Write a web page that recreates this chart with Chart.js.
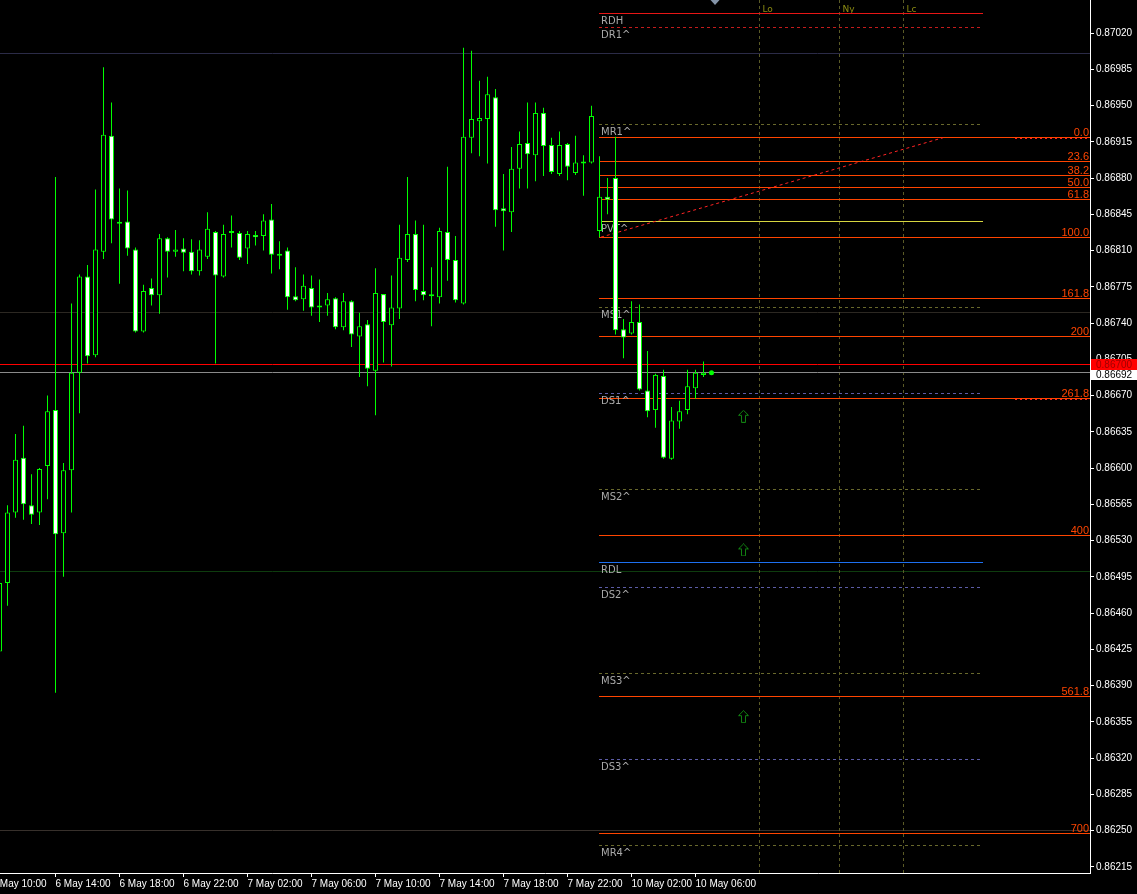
<!DOCTYPE html>
<html>
<head>
<meta charset="utf-8">
<script src="https://cdn.jsdelivr.net/npm/chart.js@4.4.1/dist/chart.umd.min.js"></script>
<style>
html,body{margin:0;padding:0;background:#000;overflow:hidden}
canvas{display:block}
</style>
</head>
<body>
<canvas id="chart" width="1137" height="894"></canvas>
<script>
// EURGBP-style M30 bars, index 0 = 6 May 11:00
const firstBar = -1;
const openP = [
  0.86423, 0.86489, 0.86557, 0.86610, 0.86564, 0.86557, 0.86602, 0.86656, 0.86537, 0.86598,
  0.86692, 0.86785, 0.86709, 0.86809, 0.86921, 0.86836, 0.86838, 0.86811, 0.86732, 0.86774,
  0.86767, 0.86822, 0.86809, 0.86812, 0.86809, 0.86790, 0.86804, 0.86828, 0.86785, 0.86827,
  0.86827, 0.86812, 0.86825, 0.86824, 0.86840, 0.86806, 0.86810, 0.86766, 0.86763, 0.86774,
  0.86755, 0.86757, 0.86764, 0.86736, 0.86761, 0.86727, 0.86739, 0.86694, 0.86768, 0.86738,
  0.86754, 0.86801, 0.86826, 0.86771, 0.86766, 0.86765, 0.86828, 0.86801, 0.86759, 0.86919,
  0.86935, 0.86937, 0.86958, 0.86851, 0.86847, 0.86889, 0.86914, 0.86902, 0.86943, 0.86912,
  0.86884, 0.86913, 0.86885, 0.86894, 0.86895, 0.86829, 0.86862, 0.86880, 0.86734, 0.86730,
  0.86741, 0.86675, 0.86656, 0.86689, 0.86609, 0.86645, 0.86656, 0.86677, 0.86690
];
const highP = [
  0.86494, 0.86564, 0.86633, 0.86641, 0.86594, 0.86600, 0.86670, 0.86881, 0.86605, 0.86759,
  0.86787, 0.86796, 0.86869, 0.86987, 0.86953, 0.86870, 0.86868, 0.86813, 0.86777, 0.86783,
  0.86826, 0.86823, 0.86830, 0.86822, 0.86821, 0.86820, 0.86847, 0.86829, 0.86835, 0.86844,
  0.86829, 0.86829, 0.86829, 0.86845, 0.86855, 0.86819, 0.86813, 0.86794, 0.86787, 0.86786,
  0.86782, 0.86769, 0.86765, 0.86769, 0.86762, 0.86750, 0.86743, 0.86793, 0.86768, 0.86786,
  0.86835, 0.86881, 0.86839, 0.86835, 0.86794, 0.86832, 0.86891, 0.86824, 0.87006, 0.87003,
  0.86974, 0.86978, 0.86966, 0.86884, 0.86910, 0.86925, 0.86953, 0.86953, 0.86948, 0.86919,
  0.86925, 0.86914, 0.86921, 0.86902, 0.86950, 0.86901, 0.86880, 0.86920, 0.86744, 0.86761,
  0.86758, 0.86713, 0.86691, 0.86695, 0.86659, 0.86665, 0.86695, 0.86695, 0.86703
];
const lowP = [
  0.86420, 0.86467, 0.86552, 0.86550, 0.86546, 0.86545, 0.86570, 0.86383, 0.86495, 0.86557,
  0.86653, 0.86701, 0.86707, 0.86802, 0.86817, 0.86778, 0.86805, 0.86731, 0.86731, 0.86757,
  0.86749, 0.86784, 0.86804, 0.86790, 0.86787, 0.86786, 0.86802, 0.86701, 0.86784, 0.86813,
  0.86801, 0.86797, 0.86815, 0.86810, 0.86788, 0.86792, 0.86753, 0.86761, 0.86752, 0.86747,
  0.86741, 0.86747, 0.86734, 0.86733, 0.86717, 0.86688, 0.86679, 0.86651, 0.86702, 0.86698,
  0.86744, 0.86799, 0.86761, 0.86762, 0.86737, 0.86759, 0.86781, 0.86760, 0.86758, 0.86904,
  0.86901, 0.86894, 0.86833, 0.86810, 0.86828, 0.86870, 0.86870, 0.86877, 0.86882, 0.86884,
  0.86882, 0.86878, 0.86883, 0.86863, 0.86894, 0.86823, 0.86845, 0.86729, 0.86706, 0.86729,
  0.86675, 0.86649, 0.86639, 0.86609, 0.86608, 0.86638, 0.86652, 0.86667, 0.86688
];
const closeP = [
  0.86489, 0.86557, 0.86608, 0.86565, 0.86555, 0.86599, 0.86655, 0.86536, 0.86598, 0.86692,
  0.86785, 0.86708, 0.86811, 0.86922, 0.86840, 0.86836, 0.86812, 0.86732, 0.86771, 0.86767,
  0.86822, 0.86809, 0.86811, 0.86808, 0.86790, 0.86811, 0.86831, 0.86786, 0.86826, 0.86828,
  0.86803, 0.86826, 0.86823, 0.86839, 0.86806, 0.86805, 0.86765, 0.86762, 0.86776, 0.86755,
  0.86757, 0.86763, 0.86736, 0.86761, 0.86729, 0.86737, 0.86696, 0.86769, 0.86741, 0.86755,
  0.86803, 0.86826, 0.86772, 0.86767, 0.86766, 0.86829, 0.86801, 0.86762, 0.86920, 0.86937,
  0.86938, 0.86961, 0.86849, 0.86848, 0.86889, 0.86913, 0.86903, 0.86943, 0.86911, 0.86886,
  0.86912, 0.86891, 0.86895, 0.86896, 0.86940, 0.86862, 0.86859, 0.86733, 0.86726, 0.86741,
  0.86676, 0.86655, 0.86690, 0.86610, 0.86646, 0.86655, 0.86679, 0.86692, 0.86692
];

// axis ticks
const timeTickBars = [-2, 6, 14, 22, 30, 38, 46, 54, 62, 70, 78, 86];
const timeTickLabels = ['6 May 10:00', '6 May 14:00', '6 May 18:00', '6 May 22:00', '7 May 02:00',
  '7 May 06:00', '7 May 10:00', '7 May 14:00', '7 May 18:00', '7 May 22:00', '10 May 02:00', '10 May 06:00'];
const priceTickLabels = ['0.86215', '0.86250', '0.86285', '0.86320', '0.86355', '0.86390', '0.86425',
  '0.86460', '0.86495', '0.86530', '0.86565', '0.86600', '0.86635', '0.86670', '0.86705', '0.86740',
  '0.86775', '0.86810', '0.86845', '0.86880', '0.86915', '0.86950', '0.86985', '0.87020'];

// daily pivot set
const pivotNames = ['RDH', 'DR1^', 'MR1^', 'PVT^', 'MS1^', 'DS1^', 'MS2^', 'RDL', 'DS2^', 'MS3^', 'DS3^', 'MR4^'];
const pivotPrices = [0.87039, 0.87025, 0.86932, 0.86838, 0.86755, 0.86672, 0.86579, 0.86509, 0.86485, 0.86402, 0.86319, 0.86236];

// fibonacci retracement / extension
const fibHigh = 0.86919;
const fibLow = 0.86823;
const fibLevels = [0, 23.6, 38.2, 50, 61.8, 100, 161.8, 200, 261.8, 400, 561.8, 700];
const fibLabels = ['0.0', '23.6', '38.2', '50.0', '61.8', '100.0', '161.8', '200', '261.8', '400', '561.8', '700'];
const fibAnchorBars = [74.19, 116.94];
const fibTailLevels = [0, 261.8];

// round numbers, quotes, sessions, signals
const roundLevels = [0.87000, 0.86750, 0.86500, 0.86250];
const askPrice = 0.86700;
const bidPrice = 0.86692;
const sessionBars = [94, 104, 112];
const sessionNames = ['Lo', 'Ny', 'Lc'];
const signalBars = [92, 92, 92];
const signalPrices = [0.86650, 0.86521, 0.86360];
const markerBar = 88;
const markerPrice = 0.86692;

// ---------------------------------------------------------------
const PIVOT_SPAN = [73.94, 121.94];
const TAIL_SPAN = [125.94, 134.94];
const SHIFT_BAR = 88.44;
const ROUND_COLORS = ['#2b2b47', '#2c2822', '#0e3c0e', '#37302b'];

const fibPrice = lv => fibHigh - (fibHigh - fibLow) * lv / 100;

function pivotStyle(name) {
  if (name === 'RDH') return {color: '#e81616', dash: []};
  if (name === 'RDL') return {color: '#1e70f0', dash: []};
  if (name === 'PVT^') return {color: '#d6d640', dash: []};
  if (name.startsWith('DR')) return {color: '#c41c1c', dash: [3, 3]};
  if (name.startsWith('DS')) return {color: '#5c5ca6', dash: [3, 3]};
  return {color: '#68682c', dash: [3, 3]};
}

function arrowIcon() {
  const c = document.createElement('canvas');
  c.width = 11; c.height = 13;
  const g = c.getContext('2d');
  g.strokeStyle = '#118011';
  g.lineWidth = 1;
  g.beginPath();
  g.moveTo(5.5, 0.5); g.lineTo(10.5, 5.5); g.lineTo(7.5, 5.5); g.lineTo(7.5, 12.5);
  g.lineTo(3.5, 12.5); g.lineTo(3.5, 5.5); g.lineTo(0.5, 5.5); g.closePath();
  g.stroke();
  return c;
}

const bars = openP.map((_, i) => firstBar + i);
const wickData = bars.map((x, i) => ({x, y: [lowP[i], highP[i]]}));
const bodyData = bars.map((x, i) => ({x, y: [openP[i], closeP[i]]}));
const bodyFill = bars.map((_, i) => closeP[i] < openP[i] ? '#ffffff' : '#000000');
const signalData = signalBars.map((x, i) => ({x, y: signalPrices[i]}));
const fibTrend = [{x: fibAnchorBars[0], y: fibLow}, {x: fibAnchorBars[1], y: fibHigh}];

const overlay = {
  id: 'overlay',
  beforeDatasetsDraw(chart) {
    const {ctx, chartArea: a, scales: {x, y}} = chart;
    const px = v => x.getPixelForValue(v);
    const py = v => Math.round(y.getPixelForValue(v) - 0.5) + 0.5;
    const hline = (p, x0, x1, color, dash, dy) => {
      const yy = py(p) + (dy || 0);
      ctx.strokeStyle = color;
      ctx.setLineDash(dash || []);
      ctx.beginPath();
      ctx.moveTo(x0, yy);
      ctx.lineTo(x1, yy);
      ctx.stroke();
    };
    ctx.save();
    ctx.lineWidth = 1;

    roundLevels.forEach((p, i) => hline(p, a.left, a.right, ROUND_COLORS[i]));

    // session separators
    ctx.font = '9px "DejaVu Sans"';
    ctx.textAlign = 'left';
    ctx.textBaseline = 'alphabetic';
    sessionBars.forEach((b, i) => {
      const sx = Math.floor(px(b)) + 0.5;
      ctx.strokeStyle = '#5a5a26';
      ctx.setLineDash([3, 3]);
      ctx.beginPath();
      ctx.moveTo(sx, a.top);
      ctx.lineTo(sx, a.bottom);
      ctx.stroke();
      ctx.fillStyle = '#8c8c12';
      ctx.fillText(sessionNames[i], sx + 3, 12);
    });

    const x0 = Math.round(px(PIVOT_SPAN[0]));
    const x1 = Math.round(px(PIVOT_SPAN[1]));
    pivotNames.forEach((n, i) => {
      const st = pivotStyle(n);
      hline(pivotPrices[i], x0, x1, st.color, st.dash);
    });

    fibLevels.forEach(lv => hline(fibPrice(lv), x0, a.right, '#ff4500'));
    fibTailLevels.forEach(lv => hline(fibPrice(lv), px(TAIL_SPAN[0]), px(TAIL_SPAN[1]), '#ff2020', [2, 3], 1));

    hline(askPrice, a.left, a.right, '#ff0000');
    hline(bidPrice, a.left, a.right, '#8a8a8a');

    ctx.setLineDash([]);
    ctx.font = '10px "DejaVu Sans"';
    ctx.fillStyle = '#a9a9a9';
    ctx.textAlign = 'left';
    pivotNames.forEach((n, i) => ctx.fillText(n, x0 + 2, py(pivotPrices[i]) + 10));

    ctx.font = '11px "Liberation Sans Narrow", "Liberation Sans"';
    ctx.fillStyle = '#ff4500';
    ctx.textAlign = 'right';
    fibLevels.forEach((lv, i) => ctx.fillText(fibLabels[i], a.right - 1, py(fibPrice(lv)) - 2));
    ctx.restore();
  },
  afterDraw(chart) {
    const {ctx, chartArea: a, scales: {x, y}} = chart;
    ctx.save();
    // quote tags on the price axis
    const ay = Math.round(y.getPixelForValue(askPrice));
    ctx.fillStyle = '#ff0000';
    ctx.fillRect(a.right + 1, ay - 6, 46, 11);
    ctx.font = '10px "Liberation Sans"';
    ctx.textAlign = 'left';
    ctx.textBaseline = 'middle';
    ctx.fillStyle = '#a00000';
    ctx.fillText(askPrice.toFixed(5), a.right + 6, ay);
    const bt = ay + 5;
    ctx.fillStyle = '#ffffff';
    ctx.fillRect(a.right + 1, bt, 46, 10);
    ctx.fillStyle = '#000000';
    ctx.fillText(bidPrice.toFixed(5), a.right + 6, bt + 5);
    // chart shift marker
    const sx = x.getPixelForValue(SHIFT_BAR);
    ctx.fillStyle = '#8494a8';
    ctx.beginPath();
    ctx.moveTo(sx - 4.5, a.top);
    ctx.lineTo(sx + 4.5, a.top);
    ctx.lineTo(sx, a.top + 5);
    ctx.closePath();
    ctx.fill();
    ctx.restore();
  }
};

new Chart(document.getElementById('chart'), {
  type: 'bar',
  data: {
    datasets: [
      {
        type: 'line', data: fibTrend, borderColor: '#ff2424', borderWidth: 1,
        borderDash: [3, 3], pointRadius: 0, order: 6
      },
      {
        data: wickData, backgroundColor: '#00ff00', borderWidth: 0, barThickness: 1,
        grouped: false, inflateAmount: 0, minBarLength: 1, order: 5
      },
      {
        data: bodyData, backgroundColor: bodyFill, borderColor: '#00ff00', borderWidth: 1,
        borderSkipped: false, barThickness: 5, grouped: false, inflateAmount: 0,
        minBarLength: 2, order: 4
      },
      {
        type: 'scatter', data: signalData, pointStyle: arrowIcon(), pointRadius: 6, order: 3
      },
      {
        type: 'scatter', data: [{x: markerBar, y: markerPrice}], pointRadius: 2.5,
        backgroundColor: '#00ff00', borderWidth: 0, order: 2
      }
    ]
  },
  options: {
    responsive: false,
    animation: false,
    devicePixelRatio: 1,
    events: [],
    layout: {padding: 0, autoPadding: false},
    plugins: {legend: {display: false}, tooltip: {enabled: false}},
    scales: {
      x: {
        type: 'linear', position: 'bottom', min: -0.9375, max: 135.3125, offset: false, bounds: 'data',
        grid: {display: true, drawOnChartArea: false, offset: false, tickLength: 4, color: '#ffffff', tickColor: '#ffffff'},
        border: {display: true, color: '#ffffff', width: 1},
        ticks: {
          color: '#ffffff', font: {family: '"Liberation Sans", Arial', size: 10}, align: 'start',
          autoSkip: false, maxRotation: 0, minRotation: 0, padding: 1,
          callback: (v, i) => timeTickLabels[i]
        },
        afterBuildTicks: s => { s.ticks = timeTickBars.map(v => ({value: v})); },
        afterFit: s => { s.height = 21; s.paddingLeft = 0; s.paddingRight = 0; }
      },
      y: {
        type: 'linear', position: 'right', min: 0.86209, max: 0.87052, beginAtZero: false, bounds: 'data',
        grid: {display: true, drawOnChartArea: false, tickLength: 4, color: '#ffffff', tickColor: '#ffffff'},
        border: {display: true, color: '#ffffff', width: 1},
        ticks: {
          color: '#ffffff', font: {family: '"Liberation Sans", Arial', size: 10},
          autoSkip: false, padding: 2,
          callback: (v, i) => priceTickLabels[i]
        },
        afterBuildTicks: s => { s.ticks = priceTickLabels.map(t => ({value: parseFloat(t)})); },
        afterFit: s => { s.width = 47; s.paddingTop = 0; s.paddingBottom = 0; }
      }
    }
  },
  plugins: [overlay]
});
</script>
</body>
</html>
